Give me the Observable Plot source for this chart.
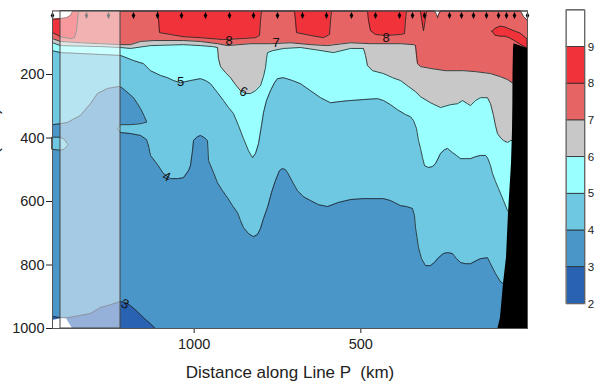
<!DOCTYPE html>
<html><head><meta charset="utf-8">
<script src="https://cdn.jsdelivr.net/npm/d3@7"></script>
<script src="https://cdn.jsdelivr.net/npm/@observablehq/plot@0.6"></script>
<style>
body{margin:0;background:#fff;}
#wrap{position:relative;width:603px;height:382px;overflow:hidden;font-family:"Liberation Sans",Arial,sans-serif;}
#main{position:absolute;left:0;top:0;}
#cbar{position:absolute;left:566px;top:0;}
</style></head>
<body><div id="wrap"><div id="main"></div><div id="cbar"></div></div>
<script>
// ---- scale / legend data ----
const xTicks = [1000, 500];
const yTicks = [200, 400, 600, 800, 1000];
const levels = [2, 3, 4, 5, 6, 7, 8, 9];
const levelColors = ["#2A62B2", "#4A96C8", "#6EC8E2", "#99FFFF", "#C8C8C8", "#E66464", "#F0323A", "#FFFFFF"];
const stationKm = [1425, 1323, 1257, 1182, 1110, 1038, 966, 894, 822, 750, 675, 603, 528, 456, 384, 345, 309, 234, 198, 162, 123, 87, 63, 39, 0];
const shadedKm = [1401, 1221];

// ---- isotherm depths (m) along Line P (km) ----
const iso3Km = [1425, 1401, 1380, 1341, 1311, 1281, 1251, 1221, 1206, 1191, 1170, 1152, 1131, 1116, 0];
const iso3Depth = [962, 966, 966, 959, 953, 934, 925, 915, 918, 928, 947, 966, 985, 1000, 1000];

const iso4Km = [1425, 1401, 1380, 1341, 1311, 1290, 1260, 1227, 1218, 1206, 1182, 1161, 1149, 1143, 1137, 1131, 1110, 1092, 1071, 1050, 1032, 1017, 1011, 1005, 1002, 990, 981, 969, 960, 957, 942, 930, 915, 900, 885, 870, 861, 852, 837, 822, 810, 801, 792, 780, 768, 756, 744, 735, 726, 720, 702, 690, 672, 651, 627, 600, 567, 531, 495, 462, 432, 411, 381, 363, 345, 339, 336, 327, 318, 306, 291, 279, 267, 252, 240, 225, 213, 201, 186, 171, 153, 141, 120, 111, 96, 81, 72, 51, 0];
const iso4Depth = [358, 355, 351, 329, 292, 260, 244, 238, 241, 251, 273, 307, 333, 348, 424, 455, 484, 512, 528, 528, 525, 503, 487, 440, 408, 396, 392, 399, 408, 471, 509, 541, 566, 588, 613, 635, 660, 682, 701, 711, 704, 685, 654, 619, 572, 534, 503, 496, 500, 509, 544, 566, 585, 597, 610, 616, 603, 594, 591, 591, 591, 597, 613, 616, 622, 645, 682, 745, 780, 802, 802, 792, 777, 764, 761, 764, 780, 792, 796, 796, 786, 780, 777, 796, 827, 853, 859, 881, 896];

const iso5Km = [1425, 1401, 1341, 1281, 1221, 1182, 1152, 1131, 1101, 1080, 1062, 1041, 1011, 981, 966, 951, 930, 912, 897, 882, 867, 852, 837, 825, 816, 807, 798, 792, 783, 771, 759, 750, 732, 705, 681, 651, 621, 591, 561, 531, 492, 450, 432, 411, 390, 366, 351, 342, 333, 327, 321, 315, 309, 297, 285, 276, 261, 249, 240, 225, 213, 201, 186, 171, 156, 141, 126, 120, 111, 105, 96, 87, 72, 60, 45, 0];
const iso5Depth = [125, 131, 134, 137, 140, 156, 166, 188, 203, 210, 219, 226, 219, 213, 219, 229, 257, 282, 304, 323, 361, 402, 440, 462, 449, 418, 361, 320, 282, 251, 226, 213, 210, 219, 229, 251, 273, 289, 285, 282, 279, 276, 282, 295, 311, 326, 333, 345, 370, 408, 433, 462, 487, 493, 490, 481, 449, 437, 433, 446, 455, 465, 465, 465, 459, 455, 455, 462, 487, 512, 537, 559, 597, 629, 644, 660];

const iso6Km = [1425, 1401, 1281, 1221, 1191, 1131, 1032, 981, 945, 930, 927, 921, 906, 891, 876, 861, 846, 831, 816, 801, 792, 786, 783, 780, 765, 732, 681, 636, 582, 531, 492, 486, 480, 465, 432, 405, 381, 357, 336, 321, 291, 261, 231, 210, 195, 180, 171, 156, 141, 120, 111, 102, 96, 90, 81, 72, 60, 51, 0];
const iso6Depth = [100, 109, 112, 115, 118, 109, 106, 109, 112, 115, 150, 175, 194, 210, 232, 251, 260, 260, 251, 235, 206, 178, 150, 131, 125, 118, 115, 122, 131, 118, 118, 140, 172, 188, 197, 210, 219, 238, 254, 270, 289, 304, 295, 292, 282, 292, 298, 282, 273, 273, 292, 329, 361, 386, 399, 408, 414, 408, 408];

const iso7Km = [1425, 1401, 1341, 1281, 1221, 1191, 1161, 1122, 1032, 981, 930, 900, 831, 771, 711, 651, 600, 531, 471, 381, 342, 336, 333, 330, 321, 291, 246, 192, 156, 111, 81, 60, 42, 0];
const iso7Depth = [87, 96, 100, 103, 106, 106, 96, 93, 93, 96, 103, 109, 103, 103, 100, 106, 109, 100, 103, 103, 106, 109, 140, 166, 175, 181, 188, 188, 191, 197, 207, 216, 229, 251];

const iso8Km = [1425, 1401, 1371, 1359, 1353, 1350, 1347, 1110, 1107, 1104, 1071, 1032, 981, 912, 861, 816, 804, 801, 798, 699, 696, 693, 651, 612, 594, 591, 588, 480, 477, 471, 456, 426, 381, 369, 366, 363, 321, 318, 312, 306, 303, 0];
const iso8Depth = [68, 81, 87, 84, 62, 30, 0, 0, 24, 68, 74, 81, 84, 90, 87, 84, 77, 30, 0, 0, 30, 68, 77, 84, 74, 30, 0, 0, 30, 62, 74, 77, 74, 71, 30, 0, 0, 24, 62, 24, 0, 0];

const iso9Km = [1425, 1401, 1383, 1371, 1365, 1362, 279, 273, 270, 267, 261, 21, 12, 0];
const iso9Depth = [26, 24, 21, 14, 2, 0, 0, 11, 21, 11, 0, 0, 17, 30];

// closed patches
const lensAKm = [1425, 1401, 1389, 1380, 1377];
const lensATop = [399, 399, 405, 418, 422];
const lensABottom = [437, 440, 437, 427, 422];
const lensBKm = [1230, 1221, 1191, 1161, 1143, 1137];
const lensBTop = [370, 358, 358, 355, 350, 350];
const lensBBottom = [370, 383, 386, 392, 405, 424];
const warmBlobKm = [105, 96, 81, 66, 51, 36, 21, 6, 0];
const warmBlobTop = [65, 56, 49, 52, 59, 65, 71, 84, 90];
const warmBlobBottom = [65, 78, 81, 81, 87, 96, 106, 115, 118];

// no-data corner and sea floor / shelf
const noDataKm = [1425, 1401, 1383, 1374, 1365];
const noDataTop = [975, 969, 969, 985, 1000];
const landDepth = [103, 118, 200, 300, 377, 481, 638, 777, 859, 966, 1000];
const landEdgeKm = [40.5, 42, 43.5, 44, 45, 48, 57, 63, 72, 81, 88.5];
const landOuterKm = [40.5, 0, 0, 0, 0, 0, 0, 0, 0, 0, 0];

// contour labels
const contourLabelText = ["8", "7", "8", "5", "6", "4", "3"];
const contourLabelKm = [895, 754, 424, 1041, 852, 1083, 1207];
const contourLabelDepth = [95, 101, 85, 224, 254, 522, 923];
const contourLabelAngle = [0, 0, 0, 0, 25, 25, 20];

// ---- build ----
const pts = (xs, ys) => xs.map((x, i) => ({x, y: ys[i]}));
const band = (xs, ys1, ys2) => xs.map((x, i) => ({x, y1: ys1[i], y2: ys2[i]}));
const isos = [
  [iso3Km, iso3Depth], [iso4Km, iso4Depth], [iso5Km, iso5Depth], [iso6Km, iso6Depth],
  [iso7Km, iso7Depth], [iso8Km, iso8Depth], [iso9Km, iso9Depth]
];
const lineColor = "#1c1c1c";
// the 4° line has two branches (above and below the cold finger): break it where it jumps
const iso4Line = pts(iso4Km, iso4Depth);
iso4Line.splice(iso4Km.indexOf(1137), 0, {x: 1140, y: NaN});

const tallDiamond = {
  draw(ctx, size) {
    const r = Math.sqrt(size / Math.PI);
    ctx.moveTo(0, -1.8 * r); ctx.lineTo(0.85 * r, 0); ctx.lineTo(0, 1.8 * r); ctx.lineTo(-0.85 * r, 0); ctx.closePath();
  }
};
const lineOpts = {x: "x", y: "y", stroke: lineColor, strokeWidth: 0.8, curve: "linear"};

const marks = [Plot.frame({fill: levelColors[0], stroke: "none"})];
isos.forEach(([xs, ys], k) => {
  marks.push(Plot.areaY(pts(xs, ys), {x: "x", y1: 0, y2: "y", fill: levelColors[k + 1], curve: "linear"}));
});
marks.push(
  Plot.areaY(band(lensAKm, lensATop, lensABottom), {x: "x", y1: "y1", y2: "y2", fill: levelColors[2], stroke: lineColor, strokeWidth: 0.8}),
  Plot.areaY(band(lensBKm, lensBTop, lensBBottom), {x: "x", y1: "y1", y2: "y2", fill: levelColors[2]}),
  Plot.line(pts(lensBKm, lensBTop).slice(0, 5), lineOpts),
  Plot.line(pts(lensBKm, lensBBottom), lineOpts),
  Plot.areaY(band(warmBlobKm, warmBlobTop, warmBlobBottom), {x: "x", y1: "y1", y2: "y2", fill: levelColors[6], stroke: lineColor, strokeWidth: 0.8})
);
isos.forEach(([xs, ys], k) => {
  marks.push(Plot.line(k === 1 ? iso4Line : pts(xs, ys), lineOpts));
});
marks.push(
  Plot.areaY(band(noDataKm, noDataTop, noDataKm.map(() => 1000)), {x: "x", y1: "y1", y2: "y2", fill: "white"}),
  Plot.areaX(landDepth.map((d, i) => ({y: d, x1: landEdgeKm[i], x2: landOuterKm[i]})), {y: "y", x1: "x1", x2: "x2", fill: "black", curve: "linear"}),
  Plot.dot(stationKm, {x: d => d, frameAnchor: "top", dy: 4.5, r: 2, symbol: tallDiamond, fill: "black", stroke: "none"}),
  Plot.text(contourLabelText.map((t, i) => ({t, x: contourLabelKm[i], y: contourLabelDepth[i], a: contourLabelAngle[i]})),
    {x: "x", y: "y", text: "t", rotate: "a", fontSize: 13, fill: "#111"}),
  Plot.rect([shadedKm], {x1: d => d[0], x2: d => d[1], fill: "white", fillOpacity: 0.5, stroke: "#444", strokeWidth: 1}),
  Plot.frame({stroke: "#555"}),
  Plot.text(["Distance along Line P \u00A0(km)"], {frameAnchor: "bottom", dy: 44, textAnchor: "middle", lineAnchor: "middle", fontSize: 17, fill: "#222"}),
  Plot.text(["Pressure \u00A0(dbar)"], {frameAnchor: "left", dx: -59, textAnchor: "middle", lineAnchor: "middle", rotate: -90, fontSize: 17, fill: "#222"})
);

const main = Plot.plot({
  width: 603, height: 382,
  marginLeft: 52, marginRight: 76, marginTop: 10.5, marginBottom: 54,
  x: {domain: [1425, 0], ticks: xTicks, tickFormat: d => String(d), tickSize: 5, tickPadding: 5, label: null},
  y: {domain: [0, 1000], reverse: true, ticks: yTicks, tickFormat: d => String(d), tickSize: 6, tickPadding: 2, label: null},
  color: {type: "identity"},
  style: {fontFamily: "'Liberation Sans', Arial, sans-serif", fontSize: "14.5px", color: "#222", background: "transparent", overflow: "visible"},
  marks
});
document.getElementById("main").appendChild(main);

const cbar = Plot.plot({
  width: 40, height: 382,
  marginLeft: 0, marginRight: 20, marginTop: 10.5, marginBottom: 54,
  x: {domain: [0, 1], axis: null},
  y: {domain: [2, 10], ticks: levels, tickSize: 0, tickPadding: 3, axis: "right", label: null},
  color: {type: "identity"},
  style: {fontFamily: "'Liberation Sans', Arial, sans-serif", fontSize: "12.5px", color: "#222", background: "transparent", overflow: "visible"},
  marks: [
    Plot.rect(levels.map((v, i) => ({v, c: levelColors[i]})), {x1: 0, x2: 1, y1: "v", y2: d => d.v + 1, fill: "c", stroke: "#222", strokeWidth: 0.8}),
    Plot.frame({stroke: "#777"})
  ]
});
document.getElementById("cbar").appendChild(cbar);
</script>
</body></html>
